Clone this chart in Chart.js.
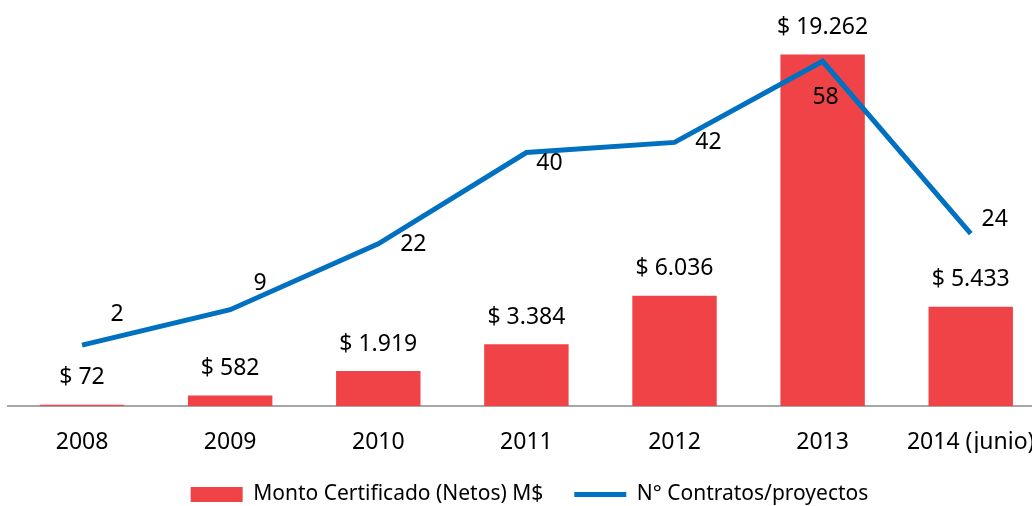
<!DOCTYPE html>
<html>
<head>
<meta charset="utf-8">
<script src="https://cdn.jsdelivr.net/npm/chart.js@4.4.1/dist/chart.umd.min.js"></script>
<style>
    html, body { margin: 0; padding: 0; background: #fff; overflow: hidden; }
    #wrap { position: relative; width: 1058px; height: 515px; }
</style>
</head>
<body>
<div id="wrap"><canvas id="chart"></canvas></div>
<script>
// 数据
const years = ['2008', '2009', '2010', '2011', '2012', '2013', '2014 (junio)'];
const montoCertificado = [72, 582, 1919, 3384, 6036, 19262, 5433];
const numContratos = [2, 9, 22, 40, 42, 58, 24];

// 折线标签偏移 (dx, dy)
const lineLabelOffsets = [[35, -31], [30, -26], [35, 1], [23, 11], [34, 0], [3, 36], [24, -14]];

const RED = '#F04347';
const BLUE = '#0070C0';
const FONT = '"Noto Sans", "Liberation Sans", sans-serif';

// 千位分隔符用点
function fmtMonto(v) {
    return '$ ' + String(v).replace(/\B(?=(\d{3})+(?!\d))/g, '.');
}

// 数据标签插件
const labelPlugin = {
    id: 'valueLabels',
    afterDatasetsDraw(chart) {
        const ctx = chart.ctx;
        ctx.save();
        ctx.font = '23px ' + FONT;
        ctx.fillStyle = '#000';
        ctx.textAlign = 'center';
        ctx.textBaseline = 'middle';

        // 柱状图标签
        chart.getDatasetMeta(0).data.forEach((bar, i) => {
            ctx.fillText(fmtMonto(montoCertificado[i]), bar.x, bar.y - 27);
        });

        // 折线标签
        chart.getDatasetMeta(1).data.forEach((pt, i) => {
            const off = lineLabelOffsets[i];
            ctx.fillText(String(numContratos[i]), pt.x + off[0], pt.y + off[1]);
        });
        ctx.restore();
    }
};

const ctx = document.getElementById('chart').getContext('2d');
new Chart(ctx, {
    type: 'bar',
    data: {
        labels: years,
        datasets: [{
            type: 'bar',
            label: 'Monto Certificado (Netos) M$',
            data: montoCertificado,
            backgroundColor: RED,
            borderWidth: 0,
            categoryPercentage: 1,
            barPercentage: 0.57,
            yAxisID: 'y',
            order: 2
        }, {
            type: 'line',
            label: 'N° Contratos/proyectos',
            data: numContratos,
            borderColor: BLUE,
            backgroundColor: BLUE,
            borderWidth: 5,
            pointRadius: 0,
            tension: 0,
            yAxisID: 'y1',
            order: 1
        }]
    },
    options: {
        responsive: true,
        maintainAspectRatio: false,
        animation: false,
        layout: { padding: { top: 41, left: 8, right: 7, bottom: 0 } },
        scales: {
            x: {
                offset: true,
                grid: { display: false, drawTicks: false },
                border: { display: true, color: '#A6A6A6', width: 2 },
                ticks: { color: '#000', font: { family: FONT, size: 23 }, padding: 23, maxRotation: 0, autoSkip: false },
                afterFit(scale) { scale.height = 47; }
            },
            y: {
                display: false,
                min: 0,
                max: 20000
            },
            y1: {
                display: false,
                position: 'right',
                min: -10,
                max: 62
            }
        },
        plugins: {
            legend: {
                position: 'bottom',
                labels: {
                    color: '#000',
                    font: { family: FONT, size: 21 },
                    usePointStyle: true,
                    pointStyleWidth: 52,
                    boxHeight: 15,
                    padding: 31,
                    sort: (a, b) => a.datasetIndex - b.datasetIndex,
                    generateLabels(chart) {
                        const items = Chart.defaults.plugins.legend.labels.generateLabels(chart);
                        items.forEach(it => {
                            const isBar = it.datasetIndex === 0;
                            it.pointStyle = isBar ? 'rect' : 'line';
                            it.lineWidth = isBar ? 0 : 5;
                            it.strokeStyle = isBar ? RED : BLUE;
                            it.fillStyle = isBar ? RED : BLUE;
                        });
                        return items;
                    }
                }
            },
            tooltip: { enabled: false }
        }
    },
    plugins: [labelPlugin]
});
</script>
</body>
</html>
